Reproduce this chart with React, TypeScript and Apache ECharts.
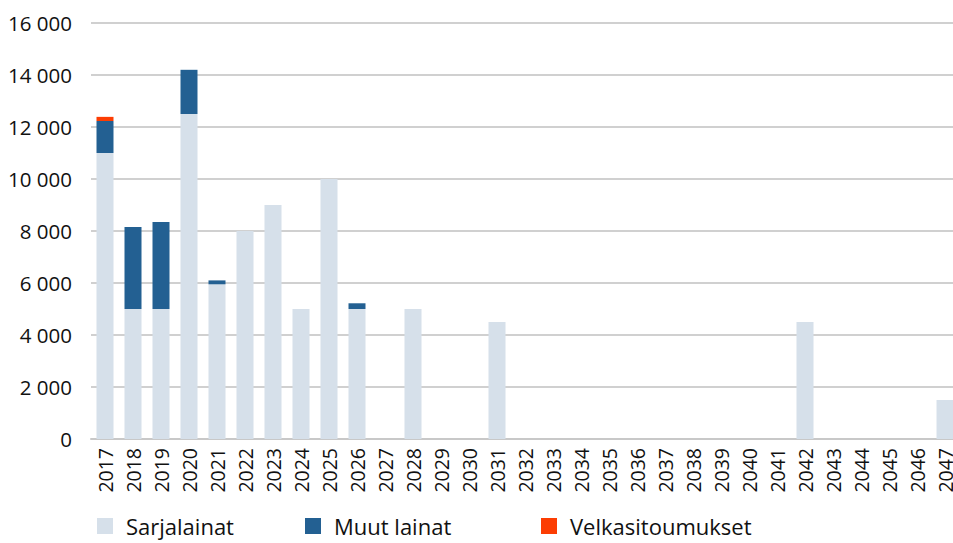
import React, { useEffect, useRef } from "react";
import * as echarts from "echarts";

const years = [
  "2017","2018","2019","2020","2021","2022","2023","2024","2025","2026",
  "2027","2028","2029","2030","2031","2032","2033","2034","2035","2036",
  "2037","2038","2039","2040","2041","2042","2043","2044","2045","2046","2047",
];
const sarjalainat = [
  11000, 5000, 5000, 12500, 5950, 8000, 9000, 5000, 10000, 5000,
  0, 5000, 0, 0, 4500, 0, 0, 0, 0, 0,
  0, 0, 0, 0, 0, 4500, 0, 0, 0, 0, 1500,
];
const muutLainat = [
  1230, 3150, 3350, 1700, 150, 0, 0, 0, 0, 220,
  0, 0, 0, 0, 0, 0, 0, 0, 0, 0,
  0, 0, 0, 0, 0, 0, 0, 0, 0, 0, 0,
];
const velkasitoumukset = [
  160, 0, 0, 0, 0, 0, 0, 0, 0, 0,
  0, 0, 0, 0, 0, 0, 0, 0, 0, 0,
  0, 0, 0, 0, 0, 0, 0, 0, 0, 0, 0,
];

const FONT = "Open Sans";
const C_SARJA = "#d6e0ea";
const C_MUUT = "#236092";
const C_VELKA = "#fc3d03";

const fmt = (v: number) => String(v).replace(/\B(?=(\d{3})+(?!\d))/g, " ");

export default function App() {
  const ref = useRef<HTMLDivElement>(null);
  useEffect(() => {
    if (!ref.current) return;
    const chart = echarts.init(ref.current, null, { renderer: "svg" });
    const legendCommon = {
      orient: "horizontal" as const,
      top: 515,
      itemWidth: 16,
      itemHeight: 16,
      itemGap: 0,
      icon: "rect",
      textStyle: {
        fontFamily: FONT,
        fontSize: 22,
        color: "#111",
        padding: [0, 0, 0, 8],
      },
      padding: 0,
    };
    chart.setOption({
      animation: false,
      textStyle: { fontFamily: FONT },
      grid: {
        left: 91,
        right: -6,
        top: 23,
        bottom: 104,
        containLabel: false,
        outerBoundsMode: "none",
      },
      legend: [
        { ...legendCommon, left: 97, data: ["Sarjalainat"] },
        { ...legendCommon, left: 305, data: ["Muut lainat"] },
        { ...legendCommon, left: 541, data: ["Velkasitoumukset"] },
      ],
      xAxis: {
        type: "category",
        data: years,
        axisLine: { lineStyle: { color: "#c8c8c8", width: 2 } },
        axisTick: { show: false },
        axisLabel: {
          rotate: 90,
          interval: 0,
          margin: 9,
          fontFamily: FONT,
          fontSize: 19.5,
          color: "#111",
        },
      },
      yAxis: {
        type: "value",
        min: 0,
        max: 16000,
        interval: 2000,
        axisLine: { show: false },
        axisTick: { show: false },
        splitLine: { lineStyle: { color: "#d0d0d0", width: 2 } },
        axisLabel: {
          margin: 19,
          fontFamily: FONT,
          fontSize: 20.5,
          color: "#111",
          formatter: (v: number) => fmt(v),
        },
      },
      series: [
        {
          name: "Sarjalainat",
          type: "bar",
          stack: "total",
          data: sarjalainat,
          barWidth: 17,
          itemStyle: { color: C_SARJA },
        },
        {
          name: "Muut lainat",
          type: "bar",
          stack: "total",
          data: muutLainat,
          barWidth: 17,
          itemStyle: { color: C_MUUT },
        },
        {
          name: "Velkasitoumukset",
          type: "bar",
          stack: "total",
          data: velkasitoumukset,
          barWidth: 17,
          itemStyle: { color: C_VELKA },
        },
      ],
    });
    return () => chart.dispose();
  }, []);
  return <div ref={ref} style={{ width: 953, height: 543, position: "absolute", left: 0, top: 0 }} />;
}
